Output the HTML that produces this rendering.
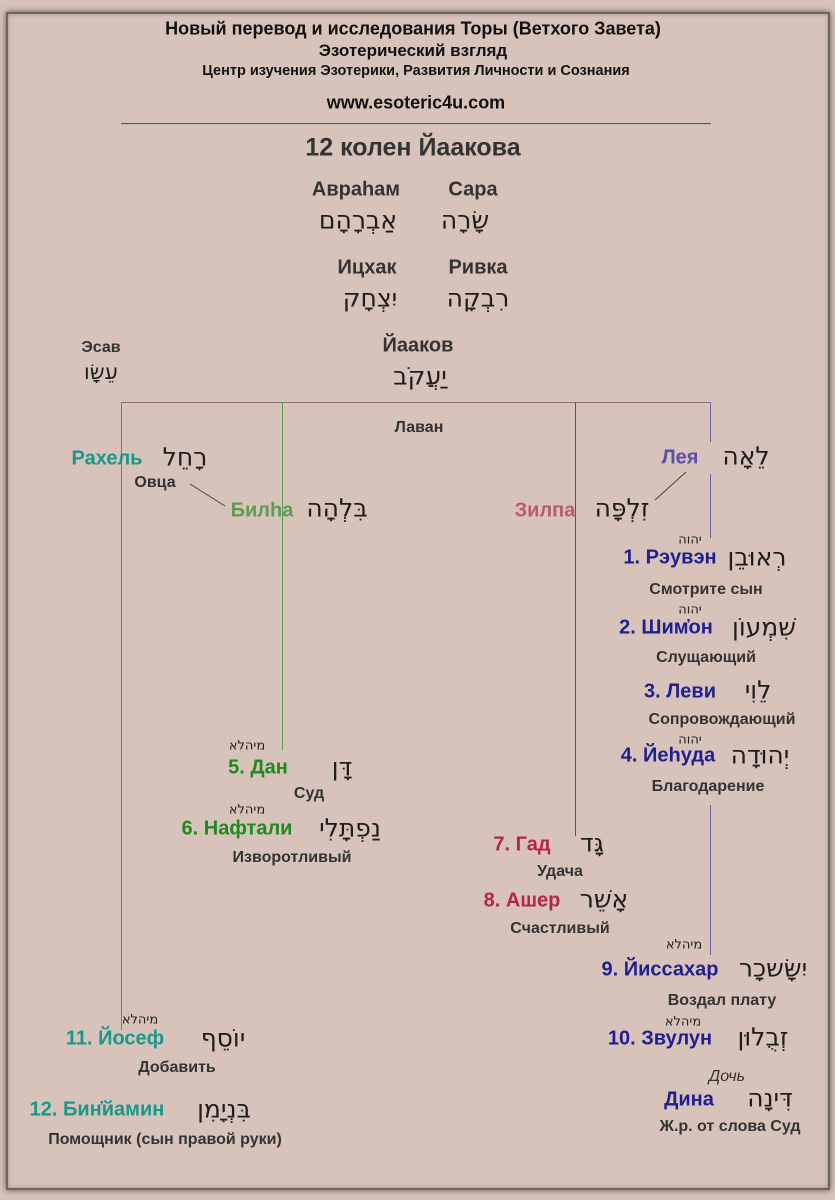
<!DOCTYPE html>
<html><head><meta charset="utf-8">
<style>
body{margin:0;width:835px;height:1200px;background:#d8c3ba;position:relative;overflow:hidden;font-family:"Liberation Sans","DejaVu Sans",sans-serif;}
.frame{position:absolute;left:6px;top:12px;width:820px;height:1174px;border:2px solid #6e6460;box-shadow:0 0 6px #5a504c, inset 0 0 4px #9a8d87;}
.t{position:absolute;transform:translate(-50%,-50%);white-space:nowrap;color:#2b2b2b;font-weight:bold;}
.h{position:absolute;transform:translate(-50%,-50%);white-space:nowrap;color:#1d1d1d;font-family:"DejaVu Sans",sans-serif;font-size:25px;direction:rtl;}
.s{position:absolute;transform:translate(-50%,-50%);white-space:nowrap;color:#222;font-family:"DejaVu Sans",sans-serif;font-size:13px;direction:rtl;}
.m{font-size:16px;color:#333;}
.n{font-size:20px;}
.b{color:#1f1f8f}.g{color:#17988a}.gr{color:#1f8a1f}.r{color:#b5244a}.lg{color:#5e9a55}.p{color:#b85a74}.lb{color:#5a4ea8}
</style></head><body>
<div class="frame"></div>
<div class="t" style="left:413px;top:29px;font-size:18px;color:#111">Новый перевод и исследования Торы (Ветхого Завета)</div>
<div class="t" style="left:413px;top:51px;font-size:17px;color:#111">Эзотерический взгляд</div>
<div class="t" style="left:416px;top:71px;font-size:14.5px;color:#111">Центр изучения Эзотерики, Развития Личности и Сознания</div>
<div class="t" style="left:416px;top:103px;font-size:18px;color:#111">www.esoteric4u.com</div>
<div style="position:absolute;left:121px;top:123px;width:590px;height:1px;background:#555;box-shadow:0 1px 0 #bbb"></div>
<div class="t" style="left:413px;top:148px;font-size:25px;color:#333">12 колен Йаакова</div>

<div class="t n" style="left:356px;top:190px;color:#333">Авраһам</div>
<div class="t n" style="left:473px;top:190px;color:#333">Сара</div>
<div class="h" style="left:358px;top:220px">אַבְרָהָם</div>
<div class="h" style="left:465px;top:220px">שָׂרָה</div>
<div class="t n" style="left:367px;top:268px;color:#333">Ицхак</div>
<div class="t n" style="left:478px;top:268px;color:#333">Ривка</div>
<div class="h" style="left:370px;top:298px">יִצְחָק</div>
<div class="h" style="left:478px;top:298px">רִבְקָה</div>
<div class="t n" style="left:418px;top:346px;color:#333">Йааков</div>
<div class="h" style="left:420px;top:376px">יַעֲקֹב</div>
<div class="t m" style="left:101px;top:348px">Эсав</div>
<div class="h" style="left:101px;top:372px;font-size:21px">עֵשָׂו</div>

<svg width="835" height="1200" style="position:absolute;left:0;top:0">
<line x1="121" y1="402.5" x2="711" y2="402.5" stroke="#8a6f78" stroke-width="1"/>
<line x1="121.5" y1="402" x2="121.5" y2="1030" stroke="#2f9a8a" stroke-width="1"/>
<line x1="282.5" y1="402" x2="282.5" y2="750" stroke="#5e9a55" stroke-width="1"/>
<line x1="575.5" y1="402" x2="575.5" y2="836" stroke="#b5244a" stroke-width="1"/>
<line x1="710.5" y1="402" x2="710.5" y2="442" stroke="#6a5fa8" stroke-width="1"/>
<line x1="710.5" y1="474" x2="710.5" y2="538" stroke="#6a5fa8" stroke-width="1"/>
<line x1="710.5" y1="805" x2="710.5" y2="955" stroke="#6a5fa8" stroke-width="1"/>
<line x1="190" y1="484" x2="225" y2="506" stroke="#444" stroke-width="1"/>
<line x1="686" y1="472" x2="655" y2="500" stroke="#444" stroke-width="1"/>
</svg>

<div class="t m" style="left:419px;top:428px">Лаван</div>
<div class="t n g" style="left:107px;top:459px">Рахель</div>
<div class="h" style="left:185px;top:457px">רָחֵל</div>
<div class="t m" style="left:155px;top:483px">Овца</div>
<div class="t n lg" style="left:262px;top:511px">Билһа</div>
<div class="h" style="left:337px;top:508px">בִּלְהָה</div>
<div class="t n p" style="left:545px;top:511px">Зилпа</div>
<div class="h" style="left:622px;top:508px">זִלְפָּה</div>
<div class="t n lb" style="left:680px;top:458px">Лея</div>
<div class="h" style="left:746px;top:456px">לֵאָה</div>

<div class="s" style="left:690px;top:540px">יהוה</div>
<div class="t n b" style="left:670px;top:558px">1. Рэувэн</div>
<div class="h" style="left:757px;top:557px">רְאוּבֵן</div>
<div class="t m" style="left:706px;top:590px">Смотрите сын</div>
<div class="s" style="left:690px;top:610px">יהוה</div>
<div class="t n b" style="left:666px;top:628px">2. Шим҆он</div>
<div class="h" style="left:764px;top:627px">שִׁמְעוֹן</div>
<div class="t m" style="left:706px;top:658px">Слущающий</div>
<div class="t n b" style="left:680px;top:692px">3. Леви</div>
<div class="h" style="left:758px;top:690px">לֵוִי</div>
<div class="t m" style="left:722px;top:720px">Сопровождающий</div>
<div class="s" style="left:690px;top:740px">יהוה</div>
<div class="t n b" style="left:668px;top:756px">4. Йеһуда</div>
<div class="h" style="left:760px;top:755px">יְהוּדָה</div>
<div class="t m" style="left:708px;top:787px">Благодарение</div>

<div class="s" style="left:247px;top:746px">מיהלא</div>
<div class="t n gr" style="left:258px;top:768px">5. Дан</div>
<div class="h" style="left:342px;top:767px">דָּן</div>
<div class="t m" style="left:309px;top:794px">Суд</div>
<div class="s" style="left:247px;top:810px">מיהלא</div>
<div class="t n gr" style="left:237px;top:829px">6. Нафтали</div>
<div class="h" style="left:350px;top:828px">נַפְתָּלִי</div>
<div class="t m" style="left:292px;top:858px">Изворотливый</div>

<div class="t n r" style="left:522px;top:845px">7. Гад</div>
<div class="h" style="left:592px;top:843px">גָּד</div>
<div class="t m" style="left:560px;top:872px">Удача</div>
<div class="t n r" style="left:522px;top:901px">8. Ашер</div>
<div class="h" style="left:604px;top:899px">אָשֵׁר</div>
<div class="t m" style="left:560px;top:929px">Счастливый</div>

<div class="s" style="left:684px;top:945px">מיהלא</div>
<div class="t n b" style="left:660px;top:970px">9. Йиссахар</div>
<div class="h" style="left:773px;top:968px">יִשָּׂשכָר</div>
<div class="t m" style="left:722px;top:1001px">Воздал плату</div>
<div class="s" style="left:683px;top:1022px">מיהלא</div>
<div class="t n b" style="left:660px;top:1039px">10. Звулун</div>
<div class="h" style="left:763px;top:1037px">זְבֻלוּן</div>
<div class="t" style="left:727px;top:1077px;font-size:16px;font-weight:normal;font-style:italic;color:#333">Дочь</div>
<div class="t n b" style="left:689px;top:1100px">Дина</div>
<div class="h" style="left:770px;top:1098px">דִּינָה</div>
<div class="t m" style="left:730px;top:1127px">Ж.р. от слова Суд</div>

<div class="s" style="left:140px;top:1020px">מיהלא</div>
<div class="t n g" style="left:115px;top:1039px">11. Йосеф</div>
<div class="h" style="left:223px;top:1038px">יוֹסֵף</div>
<div class="t m" style="left:177px;top:1068px">Добавить</div>
<div class="t n g" style="left:97px;top:1110px">12. Бин҆йамин</div>
<div class="h" style="left:224px;top:1109px">בִּנְיָמִן</div>
<div class="t m" style="left:165px;top:1140px">Помощник (сын правой руки)</div>
</body></html>
